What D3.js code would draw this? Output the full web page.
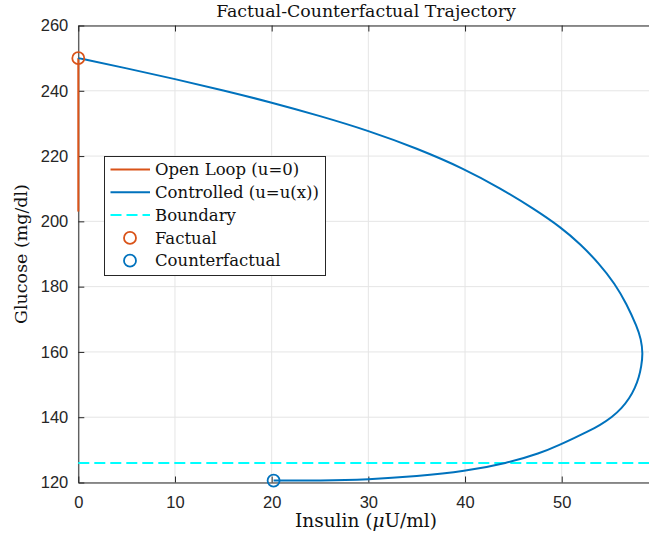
<!DOCTYPE html>
<html>
<head>
<meta charset="utf-8">
<script src="https://cdn.jsdelivr.net/npm/d3@7"></script>
<style>
  html, body { margin: 0; padding: 0; background: #fff; }
  svg { display: block; }
</style>
</head>
<body>
<svg id="chart" width="649" height="541"></svg>
<script>
// Open-loop trajectory: insulin stays at 0 while glucose falls
const openInsulin = [0, 0];
const openGlucose = [250, 203];

// Controlled trajectory under u = u(x)
const ctrlInsulin = [0, 5, 10, 15, 20, 25, 30, 35, 40, 43.6, 47.1, 50, 51.9, 53.9, 55.5, 56.7, 57.8, 58.2, 58.4,
  58.23, 58.0, 57.58, 57.0, 56.2, 55.2, 54.0, 52.6, 51.2, 49.9, 47.75, 44.3, 40, 35, 30, 25, 20.2];
const ctrlGlucose = [250, 246.9, 243.6, 240.15, 236.4, 232.3, 227.8, 222.4, 216.0, 210.2, 203.9, 198.0, 193.1, 187.0, 180.9, 174.8, 167.6, 164, 159.5,
  155.5, 152.4, 148.9, 145.8, 142.7, 140.0, 137.6, 135.5, 133.5, 131.7, 128.9, 125.9, 123.4, 121.9, 120.9, 120.55, 120.6];

// Safety boundary on glucose
const boundaryGlucose = 126;

// Start and end markers
const factualPoint = [0, 250];
const counterfactualPoint = [20.2, 120.6];

const xTicks = [0, 10, 20, 30, 40, 50, 60];
const xTickLabels = ["0", "10", "20", "30", "40", "50", ""];
const yTicks = [120, 140, 160, 180, 200, 220, 240, 260];

const legendLabels = ["Open Loop (u=0)", "Controlled (u=u(x))", "Boundary", "Factual", "Counterfactual"];

const ORANGE = "#D95319", BLUE = "#0072BD", CYAN = "#00FFFF";
const SERIF = "'DejaVu Serif', 'Liberation Serif', serif";
const SANS = "'Liberation Sans', Arial, sans-serif";
const TEXT = "#111";

const svg = d3.select("#chart");
const x = d3.scaleLinear().domain([0, 60]).range([78.3, 658.4]);
const y = d3.scaleLinear().domain([120, 260]).range([482.5, 25.5]);

// scale a text's font so that it spans the given width
function fitWidth(sel, width) {
  const node = sel.node();
  const fs = parseFloat(sel.style("font-size"));
  const w = node.getComputedTextLength();
  if (w > 0) sel.style("font-size", (fs * width / w).toFixed(2) + "px");
  return sel;
}

// grid
const grid = svg.append("g");
grid.selectAll("line.gx").data(xTicks).join("line")
  .attr("x1", d => x(d)).attr("x2", d => x(d))
  .attr("y1", y(120)).attr("y2", y(260))
  .attr("stroke", "#e5e5e5").attr("stroke-width", 1);
grid.selectAll("line.gy").data(yTicks).join("line")
  .attr("x1", x(0)).attr("x2", x(60))
  .attr("y1", d => y(d)).attr("y2", d => y(d))
  .attr("stroke", "#e5e5e5").attr("stroke-width", 1);

// axes
const axisColor = "#262626";
const xAxis = svg.append("g").attr("transform", `translate(0,${y(120)})`)
  .call(d3.axisBottom(x).tickValues(xTicks).tickSizeInner(-6).tickSizeOuter(0).tickPadding(14)
    .tickFormat((d, i) => xTickLabels[i]));
const xAxisTop = svg.append("g").attr("transform", `translate(0,${y(260)})`)
  .call(d3.axisTop(x).tickValues(xTicks).tickSizeInner(-6).tickSizeOuter(0).tickFormat(""));
const yAxis = svg.append("g").attr("transform", `translate(${x(0)},0)`)
  .call(d3.axisLeft(y).tickValues(yTicks).tickSizeInner(-6).tickSizeOuter(0).tickPadding(10));
[xAxis, xAxisTop, yAxis].forEach(g => {
  g.select(".domain").attr("stroke", axisColor).attr("stroke-width", 1);
  g.selectAll(".tick line").attr("stroke", axisColor);
  g.selectAll(".tick text").attr("fill", axisColor)
    .style("font-family", SANS).style("font-size", "16.5px");
});

// boundary
svg.append("line")
  .attr("x1", x(0)).attr("x2", x(60))
  .attr("y1", y(boundaryGlucose)).attr("y2", y(boundaryGlucose))
  .attr("stroke", CYAN).attr("stroke-width", 2)
  .attr("stroke-dasharray", "11,5");

// open loop
svg.append("path")
  .datum(d3.zip(openInsulin, openGlucose))
  .attr("d", d3.line().x(d => x(d[0])).y(d => y(d[1])))
  .attr("fill", "none").attr("stroke", ORANGE).attr("stroke-width", 2);

// controlled
svg.append("path")
  .datum(d3.zip(ctrlInsulin, ctrlGlucose))
  .attr("d", d3.line().x(d => x(d[0])).y(d => y(d[1])).curve(d3.curveBasis))
  .attr("fill", "none").attr("stroke", BLUE).attr("stroke-width", 2);

// markers
svg.append("circle").attr("cx", x(factualPoint[0])).attr("cy", y(factualPoint[1])).attr("r", 6)
  .attr("fill", "none").attr("stroke", ORANGE).attr("stroke-width", 1.8);
svg.append("circle").attr("cx", x(counterfactualPoint[0])).attr("cy", y(counterfactualPoint[1])).attr("r", 6)
  .attr("fill", "none").attr("stroke", BLUE).attr("stroke-width", 1.8);

// title and axis labels
const title = svg.append("text").attr("x", 366).attr("y", 17).attr("text-anchor", "middle")
  .style("font-family", SERIF).style("font-size", "16px").attr("fill", TEXT)
  .text("Factual-Counterfactual Trajectory");
fitWidth(title, 300);

const xl = svg.append("text").attr("x", 366).attr("y", 527).attr("text-anchor", "middle")
  .style("font-family", SERIF).style("font-size", "16px").attr("fill", TEXT);
xl.append("tspan").text("Insulin (");
xl.append("tspan").style("font-style", "italic").text("μ");
xl.append("tspan").text("U/ml)");
fitWidth(xl, 142);

const yl = svg.append("text").attr("transform", `translate(27,${(y(120) + y(260)) / 2}) rotate(-90)`)
  .attr("text-anchor", "middle")
  .style("font-family", SERIF).style("font-size", "16px").attr("fill", TEXT)
  .text("Glucose (mg/dl)");
fitWidth(yl, 140);

// legend
const lg = svg.append("g");
lg.append("rect").attr("x", 104.5).attr("y", 156.5).attr("width", 221).attr("height", 119)
  .attr("fill", "#fff").attr("stroke", axisColor).attr("stroke-width", 1);
const rowY = i => 169.5 + i * 22.8;
const legendStyles = [
  { type: "line", color: ORANGE },
  { type: "line", color: BLUE },
  { type: "dash", color: CYAN },
  { type: "circle", color: ORANGE },
  { type: "circle", color: BLUE }
];
const legendTexts = [];
legendLabels.forEach((label, i) => {
  const s = legendStyles[i];
  if (s.type === "circle") {
    lg.append("circle").attr("cx", 130).attr("cy", rowY(i)).attr("r", 6)
      .attr("fill", "none").attr("stroke", s.color).attr("stroke-width", 1.8);
  } else {
    lg.append("line").attr("x1", 110.5).attr("x2", 150).attr("y1", rowY(i)).attr("y2", rowY(i))
      .attr("stroke", s.color).attr("stroke-width", 2)
      .attr("stroke-dasharray", s.type === "dash" ? "11,5" : null);
  }
  legendTexts.push(lg.append("text").attr("x", 155).attr("y", rowY(i)).attr("dy", "0.34em")
    .style("font-family", SERIF).style("font-size", "16px").attr("fill", TEXT)
    .text(label));
});
// size the legend text from its widest entry
fitWidth(legendTexts[1], 164);
const legendFont = legendTexts[1].style("font-size");
legendTexts.forEach(t => t.style("font-size", legendFont));
</script>
</body>
</html>
